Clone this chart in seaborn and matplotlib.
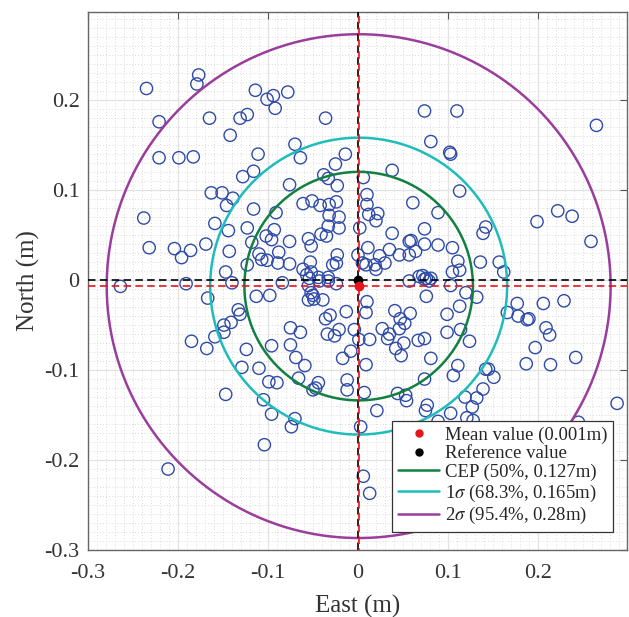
import numpy as np
import pandas as pd
import matplotlib
matplotlib.use("Agg")
import matplotlib.pyplot as plt
import seaborn as sns
from matplotlib.ticker import MultipleLocator
from matplotlib.lines import Line2D

# ---------------- data (metres) ----------------
east_outer = [-0.235, -0.177, -0.179, -0.221, -0.165, -0.114, -0.101, -0.094, -0.092, -0.078,
              -0.131, -0.123, -0.221, -0.199, -0.183, -0.238, -0.232, -0.204, -0.196, -0.186,
              -0.264, -0.191,
              -0.036, 0.074, 0.110, 0.265, 0.199, 0.222, 0.238, 0.259,
              -0.185, -0.104, -0.211,
              0.177, 0.206, 0.229, 0.178, 0.188, 0.190, 0.209, 0.213, 0.197, 0.242, 0.187, 0.214, 0.288, 0.245,
              0.006, 0.013]
north_outer = [0.213, 0.228, 0.218, 0.176, 0.180, 0.211, 0.201, 0.205, 0.191, 0.209,
               0.180, 0.184, 0.136, 0.136, 0.137, 0.069, 0.036, 0.035, 0.025, 0.033,
               -0.007, -0.004,
               0.180, 0.188, 0.188, 0.172, 0.065, 0.077, 0.071, 0.043,
               -0.068, -0.183, -0.210,
               -0.026, -0.026, -0.023, -0.040, -0.044, -0.043, -0.053, -0.061, -0.075, -0.086, -0.093, -0.094, -0.137, -0.158,
               -0.218, -0.237]

east_nw = [-0.142, -0.070, -0.111, -0.064, -0.014, -0.025, -0.038, -0.033, -0.023, -0.128,
           -0.116, -0.076, -0.163, -0.151, -0.139, -0.146, -0.116, -0.091, -0.061, -0.051,
           -0.042, -0.032, -0.024, -0.032, -0.021, -0.033, -0.021, -0.159, -0.144, -0.123,
           -0.093, -0.102, -0.096, -0.076, -0.118, -0.041, -0.035, -0.055, -0.052, -0.169,
           -0.143, -0.110, -0.107, -0.101, -0.088, -0.089, -0.076, -0.123, -0.023, -0.024,
           -0.028, -0.053, -0.061, -0.052, -0.057, -0.054, -0.044, -0.033, -0.147]
north_nw = [0.161, 0.151, 0.140, 0.136, 0.140, 0.129, 0.117, 0.113, 0.105, 0.115,
            0.121, 0.106, 0.097, 0.097, 0.091, 0.083, 0.079, 0.075, 0.085, 0.088,
            0.083, 0.084, 0.087, 0.072, 0.070, 0.060, 0.058, 0.063, 0.055, 0.058,
            0.056, 0.049, 0.045, 0.043, 0.042, 0.051, 0.049, 0.046, 0.038, 0.040,
            0.032, 0.029, 0.023, 0.022, 0.031, 0.019, 0.018, 0.017, 0.028, 0.019,
            0.017, 0.020, 0.012, 0.009, 0.006, 0.002, 0.003, 0.003, 0.009]

east_ne = [0.081, 0.102, 0.103, 0.038, 0.006, 0.113, 0.010, 0.010, 0.061, 0.012,
           0.022, 0.020, 0.089, 0.002, 0.074, 0.038, 0.142, 0.139, 0.057, 0.059,
           0.074, 0.011, 0.035, 0.089, 0.105, 0.064, 0.057, 0.046, 0.024, 0.000,
           0.111, 0.113, 0.136, 0.157, 0.162, 0.005, 0.009, 0.019, 0.020, 0.030,
           0.105, 0.068, 0.072, 0.076, 0.081]
north_ne = [0.154, 0.142, 0.140, 0.122, 0.114, 0.099, 0.095, 0.084, 0.086, 0.073,
            0.074, 0.066, 0.075, 0.058, 0.057, 0.052, 0.059, 0.052, 0.043, 0.044,
            0.040, 0.036, 0.034, 0.039, 0.036, 0.032, 0.028, 0.028, 0.027, 0.028,
            0.021, 0.011, 0.020, 0.020, 0.009, 0.019, 0.017, 0.017, 0.012, 0.019,
            0.009, 0.004, 0.005, 0.002, 0.002]

east_sw = [-0.140, -0.084, -0.055, -0.043, -0.033, -0.024, -0.052, -0.050, -0.055, -0.049,
           -0.039, -0.167, -0.113, -0.098, -0.133, -0.131, -0.141, -0.149, -0.149, -0.159,
           -0.168, -0.124, -0.096, -0.075, -0.064, -0.075, -0.036, -0.031, -0.013, -0.034,
           -0.026, -0.021, -0.004, -0.069, -0.059, -0.008, -0.017, -0.129, -0.110, -0.099,
           -0.090, -0.066, -0.044, -0.047, -0.050, -0.012, -0.012, -0.147, -0.105, -0.096,
           -0.070, -0.074]
north_sw = [-0.003, -0.003, -0.006, -0.001, -0.001, -0.004, -0.014, -0.017, -0.022, -0.021,
            -0.022, -0.020, -0.018, -0.017, -0.033, -0.038, -0.047, -0.050, -0.058, -0.063,
            -0.076, -0.077, -0.073, -0.053, -0.058, -0.072, -0.043, -0.039, -0.035, -0.060,
            -0.062, -0.055, -0.055, -0.086, -0.095, -0.079, -0.087, -0.097, -0.098, -0.113,
            -0.114, -0.109, -0.114, -0.120, -0.122, -0.111, -0.122, -0.127, -0.133, -0.149,
            -0.154, -0.163]

east_se = [0.057, 0.074, 0.079, 0.103, 0.076, 0.010, 0.009, 0.041, 0.058, 0.047,
           0.052, 0.027, 0.035, 0.033, 0.046, 0.013, 0.001, 0.067, 0.074, 0.051,
           0.042, 0.048, 0.099, 0.120, 0.132, 0.113, 0.099, 0.114, 0.124, 0.166,
           0.081, 0.009, 0.111, 0.106, 0.142, 0.145, 0.151, 0.074, 0.139, 0.007,
           0.044, 0.053, 0.054, 0.119, 0.132, 0.127, 0.077, 0.075, 0.021, 0.103,
           0.121, 0.128, 0.089, 0.003]
north_se = [-0.001, 0.001, -0.001, -0.006, -0.018, -0.024, -0.036, -0.034, -0.037, -0.043,
            -0.048, -0.054, -0.060, -0.065, -0.054, -0.066, -0.066, -0.067, -0.065, -0.070,
            -0.076, -0.084, -0.038, -0.014, -0.019, -0.029, -0.058, -0.055, -0.068, -0.036,
            -0.087, -0.094, -0.095, -0.106, -0.099, -0.099, -0.108, -0.110, -0.121, -0.125,
            -0.126, -0.128, -0.134, -0.130, -0.131, -0.141, -0.139, -0.145, -0.145, -0.148,
            -0.153, -0.156, -0.157, -0.163]

mean_e, mean_n = 0.0008, -0.0067
ref_e, ref_n = 0.0, 0.0
ring_labels = ["CEP (50%, 0.127m)", r"1$\sigma$ (68.3%, 0.165m)", r"2$\sigma$ (95.4%, 0.28m)"]
ring_radii = [0.127, 0.165, 0.28]
ring_colors = ["#118040", "#1fbcbc", "#9a3d9c"]
tick_vals = [-0.3, -0.2, -0.1, 0.0, 0.1, 0.2]
tick_text = ["-0.3", "-0.2", "-0.1", "0", "0.1", "0.2"]

# ---------------- style ----------------
sns.set_theme(style="white")
plt.rcParams["font.family"] = ["Liberation Serif", "DejaVu Serif"]
plt.rcParams["mathtext.fontset"] = "stix"
plt.rcParams["axes.unicode_minus"] = False

fig = plt.figure(figsize=(6.29, 6.17), dpi=100)
ax = fig.add_axes([88 / 629, 1 - 550 / 617, 539 / 629, 538 / 617])

df = pd.DataFrame({
    "East": east_outer + east_nw + east_ne + east_sw + east_se,
    "North": north_outer + north_nw + north_ne + north_sw + north_se,
})
sns.scatterplot(data=df, x="East", y="North", ax=ax, marker="o", s=78,
                facecolors="none", edgecolor="#2e4ba8", linewidth=1.0,
                zorder=3, legend=False)

theta = np.linspace(0, 2 * np.pi, 400)
for lab, r, c in zip(ring_labels, ring_radii, ring_colors):
    ax.plot(mean_e + r * np.cos(theta), mean_n + r * np.sin(theta),
            color=c, lw=1.8, zorder=4)

dash = (0, (4.5, 2.6))
ax.axvline(ref_e, color="black", lw=1.2, ls=dash, zorder=5)
ax.axvline(mean_e, color="#e8141b", lw=1.2, ls=(3.5, (4.5, 2.6)), zorder=5)
ax.axhline(ref_n, color="black", lw=1.2, ls=dash, zorder=5)
ax.axhline(mean_n, color="#e8141b", lw=1.2, ls=dash, zorder=5)
ax.plot([ref_e], [ref_n], "o", color="black", ms=6, zorder=6)
ax.plot([mean_e], [mean_n], "o", color="#e8141b", ms=6, zorder=6)

ax.set_xlim(-0.3, 0.299)
ax.set_ylim(-0.3, 0.298)
ax.set_xticks(tick_vals)
ax.set_xticklabels(tick_text)
ax.set_yticks(tick_vals)
ax.set_yticklabels(tick_text)
ax.xaxis.set_minor_locator(MultipleLocator(0.01))
ax.yaxis.set_minor_locator(MultipleLocator(0.01))
ax.grid(True, which="major", color="#e2e2e2", lw=0.9, ls="-", zorder=0)
ax.grid(True, which="minor", color="#cfcfcf", lw=0.6, ls=(0, (1, 2.5)), zorder=0)
ax.set_axisbelow(True)
ax.tick_params(which="major", direction="in", top=True, right=True, length=5,
               width=0.8, color="#555555", labelsize=16, labelcolor="#333333", pad=6)
ax.tick_params(axis="x", which="major", pad=10)
ax.tick_params(which="minor", length=0)
for s in ax.spines.values():
    s.set_color("#666666")
    s.set_linewidth(1.0)

ax.set_xlabel("East (m)", fontsize=18, color="#333333", labelpad=9)
ax.set_ylabel("North (m)", fontsize=18, color="#333333", labelpad=3)

handles = [
    Line2D([], [], ls="none", marker="o", color="#e8141b", ms=5),
    Line2D([], [], ls="none", marker="o", color="black", ms=5),
] + [Line2D([], [], color=c, lw=1.8) for c in ring_colors]
labels = ["Mean value (0.001m)", "Reference value"] + ring_labels
leg = ax.legend(handles, labels, loc="lower right", bbox_to_anchor=(0.974, 0.0335),
                fontsize=13.5, frameon=True, fancybox=False, framealpha=1,
                edgecolor="#333333", borderpad=0.3, labelspacing=0.08,
                handlelength=2.2, handletextpad=0.3, borderaxespad=0)
leg.get_frame().set_linewidth(0.9)
leg.set_zorder(10)

fig.savefig("out.png", dpi=100)
